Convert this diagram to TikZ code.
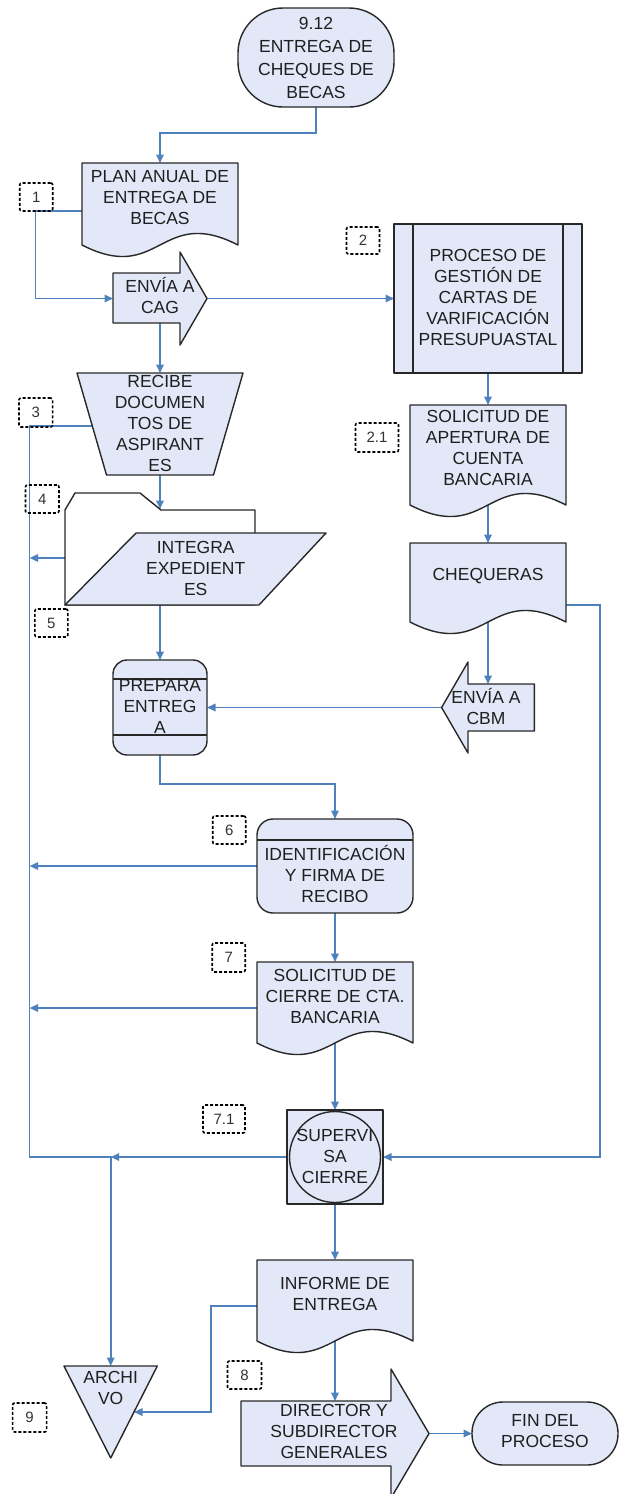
\documentclass[tikz,border=0pt]{standalone}
\usepackage{fontspec}
\setmainfont{Liberation Sans}
\usetikzlibrary{arrows.meta,calc}
\definecolor{boxfill}{RGB}{226,232,247}
\definecolor{flowline}{RGB}{79,129,189}
\definecolor{outline}{RGB}{40,40,40}
% document symbol: straight top and sides, wavy bottom edge
\newcommand\docshape[4]{\path[shp] (#1,#2) -- (#3,#2) -- (#3,#4)
  .. controls ({(#1+#3)/2},{#4-40}) and ({(#1+#3)/2},{#4+40}) .. (#1,#4) -- cycle;}
\begin{document}
\begin{tikzpicture}[x=1pt,y=-1pt,
  area/.style 2 args={inner sep=0pt,outer sep=0pt,minimum width=#1pt,minimum height=#2pt},
  lbl/.style={align=center,inner sep=0pt,text=black!88,font=\fontsize{17.5pt}{21pt}\selectfont},
  tag/.style={draw=black,dash pattern=on 3pt off 2pt,line width=1.6pt,rounded corners=2pt,
    inner sep=0pt,minimum height=28pt,text=black!80,font=\fontsize{15pt}{17pt}\selectfont},
  shp/.style={draw=outline,fill=boxfill,line width=1.4pt,line join=round},
  rule/.style={draw=outline,line width=1.4pt},
  flow/.style={draw=flowline,line width=1.6pt,-{Triangle[length=8.5pt,width=7.5pt]}}]
\useasboundingbox (0,0) rectangle (620,1494);

% ---- named areas of the symbols
\node[area={156}{99}]  (start)   at (316,57.5)   {};
\node[area={156}{82}]  (plan)    at (160,204)    {};
\node[area={94}{93}]   (cag)     at (160,298.5)  {};
\node[area={188}{149}] (proc)    at (488,298.5)  {};
\node[area={166}{102}] (recibe)  at (160,424)    {};
\node[area={261}{112}] (integ)   at (195.5,549)  {};
\node[area={94}{95}]   (prepara) at (160,707.5)  {};
\node[area={156}{100}] (sol21)   at (488,455)    {};
\node[area={156}{79}]  (cheq)    at (488,582.5)  {};
\node[area={92.8}{91}] (cbm)     at (488,707.5)  {};
\node[area={156}{94}]  (ident)   at (335,866)    {};
\node[area={156}{81}]  (solc)    at (335,1002.5) {};
\node[area={96}{94}]   (sup)     at (335,1157)   {};
\node[area={156}{81}]  (inf)     at (335,1300.5) {};
\node[area={93.3}{92}] (arch)    at (110.7,1412) {};
\node[area={188}{129}] (dir)     at (335,1433.5) {};
\node[area={146}{63}]  (fin)     at (545,1433.5) {};

\coordinate (plan-l)   at (82,211);
\coordinate (recibe-l) at (92.5,426);
\coordinate (integ-in) at (160,509);
\coordinate (integ-l)  at (65,558);
\coordinate (integ-b)  at (160,605);
\coordinate (cheq-r)   at (566,605);
\coordinate (solc-l)   at (257,1008);
\coordinate (inf-l)    at (257,1306);
\coordinate (arch-r)   at (134,1412);
\coordinate (bus-top)  at (29.6,426);
\coordinate (bus-join) at (110.7,1157);
\coordinate (rbus)     at (600,1157);

% ---- connectors
\draw[flow] (start.south) -- ++(0,26) -| (plan.north);
\draw[flow] (plan-l) -- ++(-46.4,0) |- (cag.west);
\draw[flow] (cag.east) -- (proc.west);
\draw[flow] ($(cag.south)+(0,-22)$) -- (recibe.north);
\draw[flow] (recibe.south) -- (integ-in);
\draw[flow] (integ-b) -- (prepara.north);
\draw[flow] (prepara.south) -- ++(0,29) -| (ident.north);
\draw[flow] (ident.south) -- (solc.north);
\draw[flow] (solc.south) -- (sup.north);
\draw[flow] (sup.south) -- (inf.north);
\draw[flow] (inf.south) -- ($(dir.north)+(0,32)$);
\draw[flow] (dir.east) -- (fin.west);
\draw[flow] (proc.south) -- (sol21.north);
\draw[flow] (sol21.south) -- (cheq.north);
\draw[flow] (cheq.south) -- ($(cbm.north)+(0,22)$);
\draw[flow] (cbm.west) -- (prepara.east);
% collecting line on the left, down to the archive
\draw[flow] (recibe-l) -- (bus-top) |- (bus-join) -- (arch.north);
\draw[flow] (integ-l) -- (integ-l -| bus-top);
\draw[flow] (ident.west) -- (ident.west -| bus-top);
\draw[flow] (solc-l) -- (solc-l -| bus-top);
\draw[flow] (sup.west) -- (bus-join);
\draw[flow] (cheq-r) -| (rbus) -- (sup.east);
\draw[flow] (inf-l) -- ++(-46.3,0) |- (arch-r);

% ---- symbols
\path[shp,rounded corners=45pt] (238,8) rectangle (394,107);
\docshape{82}{163}{238}{245}
\path[shp] (113,273) -- (180,273) -- (180,252) -- (207,298.5) -- (180,345) -- (180,323) -- (113,323) -- cycle;
\path[shp] (394,224) rectangle (582,373);
\draw[rule] (413,224) -- (413,373) (563,224) -- (563,373);
\path[shp] (77,373) -- (243,373) -- (213.5,475) -- (106.5,475) -- cycle;
\path[shp,fill=white] (65,605) -- (65,510) -- (75,493) -- (140,493) -- (161,510) -- (255,510) -- (255,605) -- cycle;
\path[shp] (136,533) -- (326,533) -- (259,605) -- (65,605) -- cycle;
\path[shp,rounded corners=14pt] (113,660) rectangle (207,755);
\draw[rule] (113,679) -- (207,679) (113,735) -- (207,735);
\docshape{410}{405}{566}{505}
\docshape{410}{543}{566}{622}
\path[shp] (534.4,684) -- (468,684) -- (468,662) -- (441.6,707.5) -- (468,753) -- (468,731) -- (534.4,731) -- cycle;
\path[shp,rounded corners=16pt] (257,819) rectangle (413,913);
\draw[rule] (257,840) -- (413,840);
\docshape{257}{962}{413}{1043}
\path[shp] (287,1110) rectangle (383,1204);
\draw[rule] (335,1157) circle[radius=45.5pt];
\docshape{257}{1260}{413}{1341}
\path[shp] (64,1366) -- (157.3,1366) -- (110.7,1458) -- cycle;
\path[shp] (241,1401) -- (391,1401) -- (391,1369) -- (429,1433.5) -- (391,1498) -- (391,1466) -- (241,1466) -- cycle;
\path[shp,rounded corners=31pt] (472,1402) rectangle (618,1465);

% ---- texts
\node[lbl,font=\fontsize{17.5pt}{23pt}\selectfont] (start-t) at (316,57.5) {9.12\\ENTREGA DE\\CHEQUES DE\\BECAS};
\node[lbl] (plan-t)    at (160,197.5)  {PLAN ANUAL DE\\ENTREGA DE\\BECAS};
\node[lbl] (cag-t)     at (160,295.5)  {ENVÍA A\\CAG};
\node[lbl] (proc-t)    at (488,297)    {PROCESO DE\\GESTIÓN DE\\CARTAS DE\\VARIFICACIÓN\\PRESUPUASTAL};
\node[lbl] (recibe-t)  at (160,423.5)  {RECIBE\\DOCUMEN\\TOS DE\\ASPIRANT\\ES};
\node[lbl] (sol21-t)   at (488,447.5)  {SOLICITUD DE\\APERTURA DE\\CUENTA\\BANCARIA};
\node[lbl] (cheq-t)    at (488,576)    {CHEQUERAS};
\node[lbl] (integ-t)   at (195.7,568)  {INTEGRA\\EXPEDIENT\\ES};
\node[lbl] (cbm-t)     at (486,706.5)  {ENVÍA A\\CBM};
\node[lbl] (prepara-t) at (160,706)    {PREPARA\\ENTREG\\A};
\node[lbl] (ident-t)   at (335,874)    {IDENTIFICACIÓN\\Y FIRMA DE\\RECIBO};
\node[lbl] (solc-t)    at (335,996)    {SOLICITUD DE\\CIERRE DE CTA.\\BANCARIA};
\node[lbl] (sup-t)     at (335,1156)   {SUPERVI\\SA\\CIERRE};
\node[lbl] (inf-t)     at (335,1293.5) {INFORME DE\\ENTREGA};
\node[lbl] (arch-t)    at (110.7,1388) {ARCHI\\VO};
\node[lbl] (dir-t)     at (334,1431.5) {DIRECTOR Y\\SUBDIRECTOR\\GENERALES};
\node[lbl] (fin-t)     at (545,1431.5) {FIN DEL\\PROCESO};

% ---- step numbers
\node[tag,minimum width=33pt] (tag1)  at (36.2,197)    {1};
\node[tag,minimum width=33pt,minimum height=27pt] (tag2) at (363,240.5) {2};
\node[tag,minimum width=43pt,minimum height=29pt] (tag21) at (377,437.5) {2.1};
\node[tag,minimum width=33.6pt,minimum height=29pt] (tag3) at (35.8,412.5) {3};
\node[tag,minimum width=33.5pt] (tag4) at (42.2,499)   {4};
\node[tag,minimum width=33pt] (tag5)  at (51.4,623)    {5};
\node[tag,minimum width=33pt] (tag6)  at (229.2,830)   {6};
\node[tag,minimum width=33pt,minimum height=29pt] (tag7) at (228.7,957.5) {7};
\node[tag,minimum width=42pt] (tag71) at (224,1119)    {7.1};
\node[tag,minimum width=34pt] (tag8)  at (244.5,1375)  {8};
\node[tag,minimum width=34pt,minimum height=29pt] (tag9) at (29.6,1417.5) {9};
\end{tikzpicture}
\end{document}
